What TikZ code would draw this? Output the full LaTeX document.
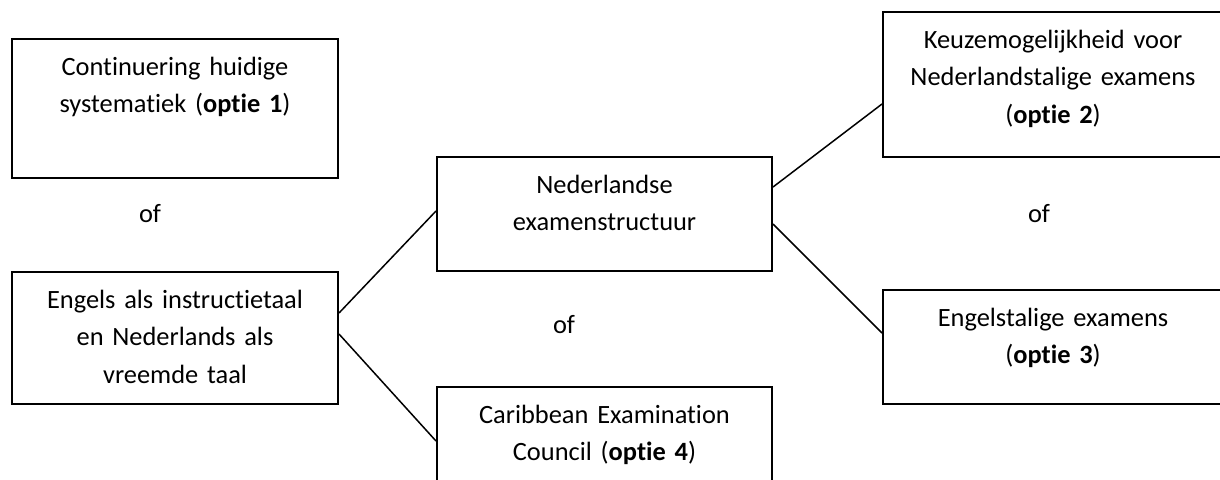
\documentclass[tikz,border=0pt]{standalone}
\usepackage{fontspec}
\setmainfont{Carlito}[Ligatures={NoCommon}]
\newcommand{\kalibri}{\fontsize{13.2}{18.75}\selectfont}
\tikzstyle{vak}=[draw, line width=1pt, anchor=north west, inner sep=0pt,
  align=center, text height=18pt, font=\kalibri]
\tikzstyle{of}=[anchor=base, inner sep=0pt, font=\kalibri]
\newcommand{\vak}{\node[vak]}
\begin{document}
\begin{tikzpicture}[x=0.5pt, y=-0.5pt
    ,every edge/.style={draw, line width=0.75pt}
]
\useasboundingbox (0,0) rectangle (1220,479);
\clip (0,0) rectangle (1220,479);
\vak[text width=163pt, text depth=51.5pt] (o1) at (11,38)
  {Continuering huidige\\systematiek (\textbf{optie 1})};
\vak[text width=163pt, text depth=48pt] (eng) at (11,271)
  {Engels als instructietaal\\en Nederlands als\\vreemde taal};
\vak[text width=167.5pt, text depth=39pt] (nl) at (436,156)
  {Nederlandse\\examenstructuur};
\vak[text width=167.5pt, text depth=39pt] (o4) at (436,386)
  {Caribbean Examination\\Council (\textbf{optie 4})};
\vak[text width=170pt, text depth=54.5pt] (o2) at (882,11)
  {Keuzemogelijkheid voor\\Nederlandstalige examens\\(\textbf{optie 2})};
\vak[text width=170pt, text depth=39pt] (o3) at (882,289)
  {Engelstalige examens\\(\textbf{optie 3})};
\node[of] (of1) at (150,222) {of};
\node[of] (of2) at (564,333) {of};
\node[of] (of3) at (1039,222) {of};
\path
([yshift=12.5pt]eng.east) edge ([yshift=1.5pt]nl.west)
([yshift=2pt]eng.east) edge ([yshift=1.5pt]o4.west)
([yshift=13.5pt]nl.east) edge ([yshift=-9.75pt]o2.west)
([yshift=-5pt]nl.east) edge ([yshift=7pt]o3.west)
;
\end{tikzpicture}
\end{document}
